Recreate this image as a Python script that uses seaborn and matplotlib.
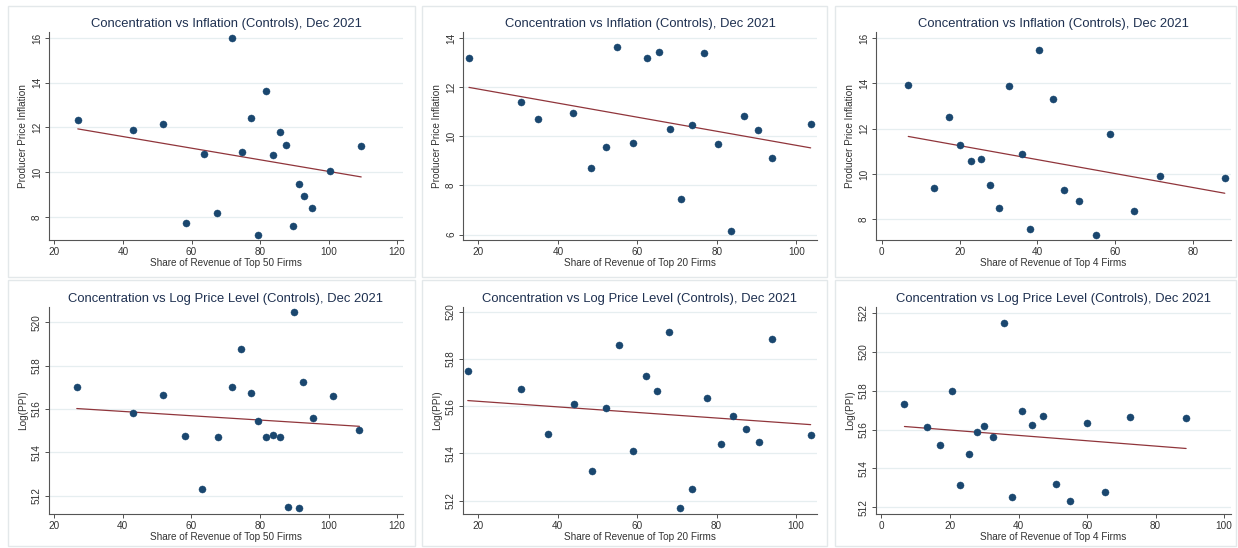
import matplotlib
matplotlib.use("Agg")
from matplotlib import pyplot as plt
from matplotlib.patches import Rectangle
import pandas as pd
import seaborn as sns

sns.set_theme(style="white")
plt.rcParams['font.family'] = ['Liberation Sans', 'DejaVu Sans']

# --- data ---
top50_x = [26.8, 42.8, 51.7, 63.6, 58.3, 67.5, 71.7, 74.7, 77.4, 79.5,
           81.7, 83.7, 85.7, 87.5, 89.7, 91.3, 92.8, 95.2, 100.5, 109.5]
top50_infl = [12.31, 11.89, 12.13, 10.80, 7.72, 8.18, 16.0, 10.90, 12.41, 7.18,
              13.65, 10.75, 11.78, 11.23, 7.57, 9.48, 8.93, 8.39, 10.05, 11.17]

top20_x = [17.6, 30.8, 34.9, 43.9, 48.3, 52.2, 54.9, 59.0, 62.4, 65.4,
           68.2, 71.0, 73.8, 76.7, 80.4, 83.6, 86.8, 90.3, 93.9, 103.6]
top20_infl = [13.20, 11.38, 10.70, 10.93, 8.71, 9.57, 13.62, 9.73, 13.20, 13.44,
              10.30, 7.45, 10.44, 13.40, 9.67, 6.16, 10.84, 10.26, 9.10, 10.49]

top4_x = [6.8, 13.4, 17.2, 20.0, 22.9, 25.4, 27.7, 30.2, 32.8, 36.0,
          38.2, 40.5, 43.9, 46.9, 50.6, 55.1, 58.6, 64.8, 71.6, 88.2]
top4_infl = [13.95, 9.37, 12.52, 11.30, 10.56, 10.67, 9.52, 8.49, 13.89, 10.90,
             7.57, 15.46, 13.32, 9.31, 8.83, 7.33, 11.79, 8.35, 9.93, 9.84]

top50_lx = [26.6, 42.9, 51.8, 58.2, 63.1, 67.8, 71.9, 74.6, 77.5, 79.4,
            81.8, 83.7, 85.7, 88.1, 89.8, 91.5, 92.6, 95.5, 101.3, 109.0]
top50_lppi = [517.0, 515.82, 516.66, 514.74, 512.29, 514.72, 517.0, 518.77, 516.74, 515.43,
              514.68, 514.78, 514.69, 511.49, 520.46, 511.42, 517.26, 515.57, 516.6, 515.03]

top20_lx = [17.3, 30.7, 37.5, 44.0, 48.5, 52.2, 55.3, 59.0, 62.2, 65.1,
            68.0, 70.9, 73.7, 77.6, 81.1, 84.1, 87.4, 90.7, 94.0, 103.7]
top20_lppi = [517.48, 516.73, 514.80, 516.10, 513.24, 515.92, 518.57, 514.09, 517.27, 516.65,
              519.12, 511.69, 512.47, 516.35, 514.38, 515.58, 515.04, 514.46, 518.83, 514.77]

top4_lx = [6.7, 13.4, 17.2, 20.5, 22.8, 25.4, 27.9, 29.9, 32.5, 35.8,
           38.0, 40.9, 44.0, 47.2, 50.9, 55.1, 59.9, 65.2, 72.5, 88.9]
top4_lppi = [517.32, 516.11, 515.19, 517.96, 513.14, 514.75, 515.89, 516.18, 515.60, 521.49,
             512.53, 516.94, 516.23, 516.72, 513.22, 512.31, 516.33, 512.77, 516.64, 516.58]

# fitted line (intercept, slope)
fit_intercept = [12.63, 12.49, 11.87, 516.28, 516.44, 516.25]
fit_slope = [-0.0260, -0.0286, -0.0308, -0.00995, -0.0118, -0.01375]

titles = ["Concentration vs Inflation (Controls), Dec 2021"] * 3 + \
         ["Concentration vs Log Price Level (Controls), Dec 2021"] * 3
xlabels = ["Share of Revenue of Top 50 Firms", "Share of Revenue of Top 20 Firms",
           "Share of Revenue of Top 4 Firms"] * 2
ylabels = ["Producer Price Inflation"] * 3 + ["Log(PPI)"] * 3
xticks = [range(20, 121, 20), range(20, 101, 20), range(0, 81, 20),
          range(20, 121, 20), range(20, 101, 20), range(0, 101, 20)]
yticks = [range(8, 17, 2), range(6, 15, 2), range(8, 17, 2),
          range(512, 521, 2), range(512, 521, 2), range(512, 523, 2)]
xlims = [(18.4, 121.7), (16.1, 105.2), (-1.5, 89.8),
         (18.5, 121.7), (16.1, 105.3), (-1.6, 102.0)]
ylims = [(6.96, 16.27), (5.78, 14.24), (7.09, 16.27),
         (511.15, 520.7), (511.43, 520.2), (511.66, 522.3)]

panels = [(top50_x, top50_infl), (top20_x, top20_infl), (top4_x, top4_infl),
          (top50_lx, top50_lppi), (top20_lx, top20_lppi), (top4_lx, top4_lppi)]

navy = "#1a476f"
maroon = "#90353b"
title_col = "#1e3050"
grid_col = "#e6eef0"
spine_col = "#555555"

fig = plt.figure(figsize=(12.38, 5.48), dpi=100)
W, H = 1238.0, 548.0

# panel frames (pixels: left, top, right, bottom)
frames = [(8, 6, 415, 277), (422, 6, 827, 277), (835, 6, 1236, 277),
          (8, 280, 415, 546), (422, 280, 827, 546), (835, 280, 1236, 546)]
for l, t, r, b in frames:
    fig.add_artist(Rectangle((l / W, 1 - b / H), (r - l) / W, (b - t) / H,
                             transform=fig.transFigure, fill=False,
                             edgecolor="#e3e8ea", linewidth=1.0))

# axes boxes (pixels)
axes_px = [(49, 32, 403, 240), (463, 32, 817, 240), (876, 32, 1231, 240),
           (49, 307, 403, 514), (463, 307, 817, 514), (876, 307, 1231, 514)]

for i, (l, t, r, b) in enumerate(axes_px):
    ax = fig.add_axes([l / W, 1 - b / H, (r - l) / W, (b - t) / H])
    xs, ys = panels[i]
    df = pd.DataFrame({"x": xs, "y": ys})
    for yt in yticks[i]:
        ax.axhline(yt, color=grid_col, linewidth=0.9, zorder=0)
    lo, hi = min(xs), max(xs)
    line = pd.DataFrame({"x": [lo, hi],
                         "y": [fit_intercept[i] + fit_slope[i] * lo,
                               fit_intercept[i] + fit_slope[i] * hi]})
    sns.lineplot(data=line, x="x", y="y", ax=ax, color=maroon, linewidth=0.9, zorder=2)
    sns.scatterplot(data=df, x="x", y="y", ax=ax, color=navy, s=26,
                    edgecolor=navy, linewidth=0.3, zorder=3)
    ax.set_xlim(*xlims[i])
    ax.set_ylim(*ylims[i])
    ax.set_xticks(list(xticks[i]))
    ax.set_yticks(list(yticks[i]))
    ax.set_yticklabels([str(v) for v in yticks[i]], rotation=90, va="center")
    ax.set_title(titles[i], fontsize=9.4, color=title_col, pad=3.5)
    ax.set_xlabel(xlabels[i], fontsize=7.2, color="#333333", labelpad=1)
    ax.set_ylabel(ylabels[i], fontsize=7.2, color="#333333", labelpad=3)
    ax.tick_params(axis="both", labelsize=7.2, colors="#333333", length=3,
                   width=0.6, pad=2, direction="out", bottom=True, left=True)
    for side in ["top", "right"]:
        ax.spines[side].set_visible(False)
    for side in ["left", "bottom"]:
        ax.spines[side].set_color(spine_col)
        ax.spines[side].set_linewidth(0.8)
    ax.set_facecolor("white")

fig.savefig("out.png", dpi=100)
